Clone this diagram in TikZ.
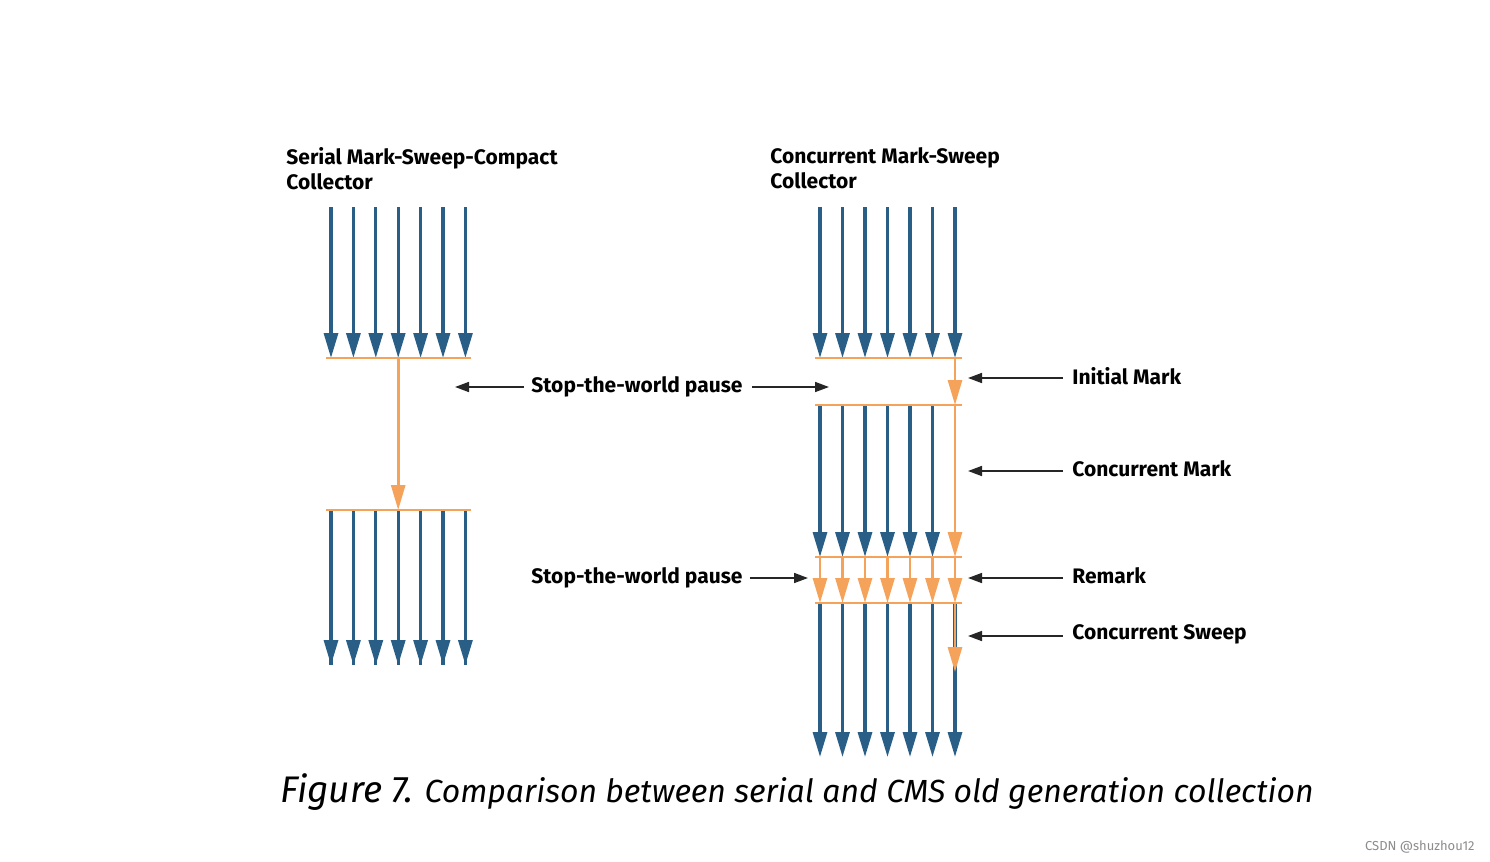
\documentclass[tikz,border=0pt]{standalone}
\usepackage{fontspec}
\setmainfont{Fira Sans}
\usetikzlibrary{arrows.meta}
\definecolor{thread}{RGB}{41,95,135}
\definecolor{gc}{RGB}{245,162,90}
\begin{document}
\begin{tikzpicture}[x=0.5pt,y=-0.5pt,
   thr/.style={thread,line width=1.6pt,-{Triangle[width=7pt,length=12.5pt]}},
   gcarr/.style={gc,line width=1.4pt,-{Triangle[width=7pt,length=12.5pt]}},
   bar/.style={gc,line width=1.1pt},
   lbl/.style={font=\bfseries\fontsize{10.5}{12.5}\selectfont,inner sep=0pt},
   ptr/.style={black!85,line width=0.8pt,-{Triangle[width=5pt,length=7pt]}}]
   %fondo
   \useasboundingbox[fill=white] (0,0) rectangle (1490,862);
   %titulos
   \node[lbl,anchor=north west,align=left] (tser) at (286,147) {Serial Mark-Sweep-Compact\\Collector};
   \node[lbl,anchor=north west,align=left] (tcms) at (770,147) {Concurrent Mark-Sweep\\Collector};
   %hilos serial
   \foreach \i in {0,...,6} {
      \coordinate (sa\i) at (331+22.4*\i,207);
      \coordinate (sb\i) at (331+22.4*\i,358);
      \coordinate (sc\i) at (331+22.4*\i,510);
      \coordinate (sd\i) at (331+22.4*\i,665);
      \draw[thr] (sa\i) -- (sb\i);
      \draw[thr,-] (sc\i) -- (sd\i);
      \draw[thr] (sc\i) -- (sd\i);
   }
   \draw[bar] (326,358) -- (471,358);
   \draw[bar] (326,510) -- (471,510);
   \draw[gcarr] (sb3) -- (sc3);
   %hilos CMS
   \foreach \i in {0,...,6} {
      \coordinate (ca\i) at (820+22.5*\i,207);
      \coordinate (cb\i) at (820+22.5*\i,358);
      \coordinate (cc\i) at (820+22.5*\i,405);
      \coordinate (cd\i) at (820+22.5*\i,557);
      \coordinate (ce\i) at (820+22.5*\i,603);
      \coordinate (cf\i) at (820+22.5*\i,757);
      \draw[thr] (ca\i) -- (cb\i);
      \draw[gcarr] (cd\i) -- (ce\i);
      \draw[thr] (ce\i) -- (cf\i);
   }
   \foreach \i in {0,...,5}
      \draw[thr] (cc\i) -- (cd\i);
   \coordinate (cg) at (955,672);
   \draw[gcarr] (cb6) -- (cc6);
   \draw[gcarr] (cc6) -- (cd6);
   \draw[gcarr] (ce6) -- (cg);
   \foreach \y in {358,405,557,603}
      \draw[bar] (815,\y) -- (962,\y);
   %etiquetas centrales
   \node[lbl] (stw1) at (637,387) {Stop-the-world pause};
   \node[lbl] (stw2) at (637,578) {Stop-the-world pause};
   \coordinate (p1) at (455,387);
   \coordinate (p2) at (829,387);
   \coordinate (p3) at (808,578);
   \draw[ptr] (stw1.west) ++(-7,0) -- (p1);
   \draw[ptr] (stw1.east) ++(9,0) -- (p2);
   \draw[ptr] (stw2.east) ++(7,0) -- (p3);
   %etiquetas derecha
   \foreach \y/\t/\n in {376/Initial Mark/im,469/Concurrent Mark/cm,576/Remark/rm,634/Concurrent Sweep/cs} {
      \node[lbl,anchor=west] (\n) at (1072,\y) {\t};
      \coordinate (q\n) at (968,\y+2);
      \draw[ptr] (1063,\y+2) -- (q\n);
   }
   %pie
   \node[font=\itshape\fontsize{16}{18}\selectfont,inner sep=0pt] (cap) at (797,792)
      {{\fontsize{18.5}{20}\selectfont Figure 7.} Comparison between serial and CMS old generation collection};
   \node[anchor=east,text=black!45,font=\fontsize{6.5}{8}\selectfont,inner sep=0pt] (wm) at (1475,847) {CSDN @shuzhou12};
\end{tikzpicture}
\end{document}
